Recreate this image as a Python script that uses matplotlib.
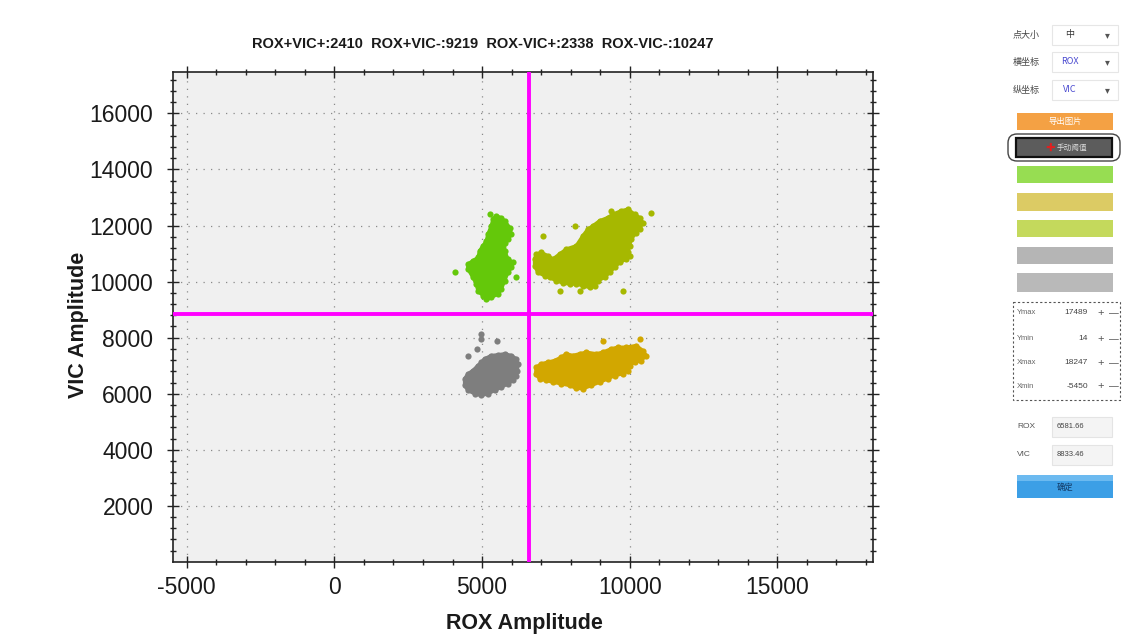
import matplotlib
matplotlib.use("Agg")
import matplotlib.pyplot as plt
from matplotlib.patches import Rectangle, FancyBboxPatch
from matplotlib.ticker import MultipleLocator

plt.rcParams['font.family'] = ['Liberation Sans', 'DejaVu Sans']
plt.rcParams['axes.unicode_minus'] = False

# ---- axis ranges and thresholds (also shown in the side panel) ----
x_min, x_max = -5450, 18247
y_min, y_max = 14, 17489
rox_threshold = 6581.66
vic_threshold = 8833.46

quadrant_names = ['ROX+VIC+', 'ROX+VIC-', 'ROX-VIC+', 'ROX-VIC-']
quadrant_counts = [2410, 9219, 2338, 10247]

# ---- droplet clusters: dense outline + isolated droplets ----
# ROX- VIC+ (green)
green_outline_x = [5484, 5629, 5765, 5934, 5991, 5876, 5765, 5765, 5876, 6045, 5991,
                   5876, 5765, 5653, 5538, 5315, 5146, 5031, 4861, 4807, 4692, 4523,
                   4523, 4692, 4861, 4919, 5031, 5146, 5200, 5315, 5369]
green_outline_y = [12345, 12284, 12167, 11929, 11694, 11516, 11395, 11099, 10804, 10683,
                   10505, 10327, 10032, 9736, 9558, 9437, 9380, 9498, 9676, 9914, 10149,
                   10448, 10626, 10743, 10861, 11099, 11277, 11455, 11694, 11989, 12227]
green_extra_x = [5257, 4073, 6161, 4919, 5200]
green_extra_y = [12427, 10327, 10149, 9676, 9437]

# ROX+ VIC+ (yellow-green)
olive_outline_x = [6837, 7006, 7230, 7399, 7625, 7852, 8190, 8414, 8583, 8752, 8979,
                   9259, 9429, 9713, 9936, 10163, 10332, 10443, 10332, 10220, 10051,
                   9993, 9936, 9993, 9882, 9655, 9486, 9317, 9148, 8921, 8809, 8640,
                   8414, 8190, 7964, 7737, 7514, 7287, 7118, 6891, 6780, 6780]
olive_outline_y = [10982, 11039, 10921, 10804, 10982, 11160, 11277, 11633, 11872, 11989,
                   12167, 12284, 12405, 12523, 12583, 12405, 12284, 12106, 11872, 11751,
                   11516, 11277, 11039, 10921, 10804, 10683, 10505, 10327, 10149, 10032,
                   9854, 9793, 9854, 9914, 9914, 9950, 10032, 10149, 10210, 10327,
                   10565, 10804]
olive_extra_x = [7060, 8133, 9374, 10728, 7625, 8302, 9767]
olive_extra_y = [11633, 11989, 12523, 12462, 9676, 9676, 9676]

# ROX- VIC- (gray)
gray_outline_x = [5088, 5315, 5538, 5765, 5991, 6161, 6215, 6194, 6161, 6045, 5876,
                  5653, 5426, 5200, 4976, 4750, 4523, 4411, 4411, 4523, 4692, 4861, 4976]
gray_outline_y = [7245, 7362, 7387, 7423, 7362, 7245, 7067, 6828, 6650, 6473, 6355,
                  6234, 6117, 5999, 5939, 5999, 6117, 6295, 6533, 6711, 6828, 7006, 7124]
gray_extra_x = [4976, 5518, 4841, 4523, 4953]
gray_extra_y = [8135, 7896, 7601, 7337, 7957]

# ROX+ VIC- (gold)
gold_outline_x = [6837, 7006, 7230, 7456, 7683, 7852, 8075, 8302, 8529, 8867, 9090,
                  9374, 9598, 9882, 10220, 10443, 10558, 10389, 10163, 9993, 9936,
                  9767, 9486, 9259, 8979, 8698, 8414, 8190, 7964, 7683, 7399, 7175,
                  6949, 6813]
gold_outline_y = [6946, 7067, 7124, 7184, 7302, 7423, 7362, 7423, 7480, 7423, 7480,
                  7601, 7658, 7658, 7718, 7540, 7362, 7184, 7124, 7006, 6828, 6711,
                  6650, 6533, 6412, 6295, 6177, 6198, 6295, 6355, 6412, 6473, 6533, 6711]
gold_extra_x = [9090, 10332]
gold_extra_y = [7896, 7957]

clusters = [
    (green_outline_x, green_outline_y, green_extra_x, green_extra_y, '#64c80a'),
    (olive_outline_x, olive_outline_y, olive_extra_x, olive_extra_y, '#a6b800'),
    (gray_outline_x, gray_outline_y, gray_extra_x, gray_extra_y, '#7e7e7e'),
    (gold_outline_x, gold_outline_y, gold_extra_x, gold_extra_y, '#d2a700'),
]

W, H = 1123, 637
fig = plt.figure(figsize=(W / 100, H / 100), dpi=100)
fig.patch.set_facecolor('white')

ax = fig.add_axes([173.4 / W, 1 - 561.5 / H, (873.3 - 173.4) / W, (561.5 - 71.7) / H])
ax.set_facecolor('#f0f0f0')
ax.set_xlim(x_min, x_max)
ax.set_ylim(y_min, y_max)

ax.xaxis.set_major_locator(MultipleLocator(5000))
ax.xaxis.set_minor_locator(MultipleLocator(1000))
ax.yaxis.set_major_locator(MultipleLocator(2000))
ax.yaxis.set_minor_locator(MultipleLocator(400))
ax.tick_params(which='both', direction='inout', top=True, right=True,
               width=1.0, color='#222222')
ax.tick_params(which='major', length=9, labelsize=16.5, labelcolor='#1a1a1a')
ax.tick_params(axis='y', which='major', pad=10)
ax.tick_params(axis='x', which='major', pad=6)
ax.tick_params(which='minor', length=5)
for s in ax.spines.values():
    s.set_linewidth(1.2)
    s.set_color('#222222')
ax.grid(which='major', color='#8a8a8a', linestyle=(0, (1, 5)), linewidth=0.9)
ax.set_axisbelow(True)

for ox, oy, ex, ey, col in clusters:
    ax.fill(ox, oy, facecolor=col, edgecolor=col, lw=2.5, joinstyle='round', zorder=3)
    ax.scatter(ox + ex, oy + ey, s=20, color=col, linewidths=0, zorder=3)

ax.axvline(rox_threshold, color='#ff00ff', lw=2.8, zorder=4)
ax.axhline(vic_threshold, color='#ff00ff', lw=2.8, zorder=4)

title = '  '.join(f'{n}:{c}' for n, c in zip(quadrant_names, quadrant_counts))
fig.text(483 / W, 1 - 44 / H, title, ha='center', va='center',
         fontsize=10.5, fontweight='bold', color='#1a1a1a')
fig.text(524 / W, 1 - 623 / H, 'ROX Amplitude', ha='center', va='center',
         fontsize=15.5, fontweight='bold', color='#1a1a1a')
fig.text(78 / W, 1 - 325 / H, 'VIC Amplitude', ha='center', va='center',
         rotation=90, fontsize=15.5, fontweight='bold', color='#1a1a1a')

# ---- control panel on the right ----
p = fig.add_axes([0, 0, 1, 1])
p.set_xlim(0, W)
p.set_ylim(H, 0)
p.axis('off')
p.patch.set_alpha(0)
cjk = ['Noto Sans CJK SC', 'DejaVu Sans']


def box(x0, y0, x1, y1, fc, ec='none', lw=0.8, ls='-'):
    p.add_patch(Rectangle((x0, y0), x1 - x0, y1 - y0, facecolor=fc,
                          edgecolor=ec, lw=lw, linestyle=ls))


for yc, lab, val, vcol in [(35, '点大小', '中', '#333333'),
                           (62, '横坐标', 'ROX', '#4a4ad0'),
                           (90, '纵坐标', 'VIC', '#4a4ad0')]:
    p.text(1013, yc, lab, fontsize=6.5, va='center', ha='left', color='#444444', family=cjk)
    box(1052, yc - 10, 1118, yc + 10, 'white', ec='#e6e6e6')
    p.text(1070, yc, val, fontsize=6.5, va='center', ha='center', color=vcol, family=cjk)
    p.text(1107, yc, '▾', fontsize=7, va='center', ha='center', color='#555555', family=cjk)

box(1017, 113, 1113, 130, '#f4a144')
p.text(1065, 121.5, '导出图片', fontsize=6, va='center', ha='center', color='white', family=cjk)

p.add_patch(FancyBboxPatch((1008, 134), 112, 27, boxstyle='round,pad=0,rounding_size=9',
                           facecolor='white', edgecolor='#444444', lw=1.0))
box(1016, 138, 1112, 157, '#5c5c5c', ec='#111111', lw=1.6)
p.text(1050, 147.5, '✚', fontsize=7, va='center', ha='center', color='#e02020', family=cjk)
p.text(1072, 147.5, '手动阈值', fontsize=5.5, va='center', ha='center', color='#dddddd', family=cjk)

for y0, y1, col in [(166, 183, '#97dd52'), (193, 211, '#dccb64'), (220, 237, '#c4d95c'),
                    (247, 264, '#b5b5b5'), (273, 292, '#b9b9b9')]:
    box(1017, y0, 1113, y1, col)

box(1013, 302, 1120, 400, 'none', ec='#555555', lw=0.8, ls=(0, (2, 2)))
for yc, lab, val in [(313, 'Ymax', y_max), (339, 'Ymin', y_min),
                     (363, 'Xmax', x_max), (386, 'Xmin', x_min)]:
    p.text(1017, yc, lab, fontsize=5.5, va='center', ha='left', color='#666666')
    p.text(1088, yc, f'{val}', fontsize=6, va='center', ha='right', color='#444444')
    p.text(1101, yc, '+', fontsize=8, va='center', ha='center', color='#555555')
    p.text(1114, yc, '—', fontsize=7, va='center', ha='center', color='#555555')

for yc, lab, val in [(427, 'ROX', rox_threshold), (455, 'VIC', vic_threshold)]:
    p.text(1017, yc, lab, fontsize=6, va='center', ha='left', color='#555555')
    box(1052, yc - 10, 1112, yc + 10, '#f4f4f4', ec='#e4e4e4')
    p.text(1057, yc, f'{val:.2f}', fontsize=5.5, va='center', ha='left', color='#444444')

box(1017, 475, 1113, 498, '#3c9fe6')
box(1017, 475, 1113, 481, '#6cbaf0')
p.text(1065, 487, '确定', fontsize=6, va='center', ha='center', color='#123a66', family=cjk)

fig.savefig('out.png', dpi=100, facecolor='white')
